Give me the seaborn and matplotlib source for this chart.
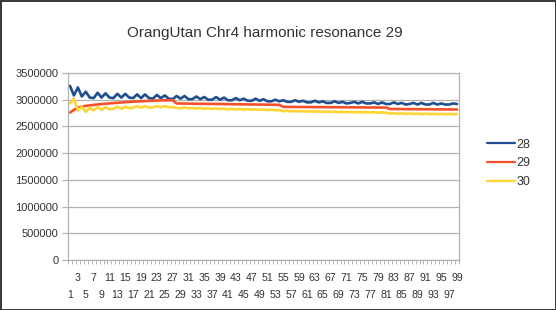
import matplotlib
matplotlib.use("Agg")
import matplotlib.pyplot as plt
import seaborn as sns
import pandas as pd

categories = list(range(1, 100))

s28 = [3260000, 3080000, 3230000, 3060000, 3150000, 3040000, 3030000, 3130000, 3040000, 3120000,
       3040000, 3030000, 3110000, 3040000, 3110000, 3040000, 3030000, 3100000, 3030000, 3100000,
       3030000, 3020000, 3090000, 3030000, 3080000, 3020000, 3010000, 3070000, 3020000, 3070000,
       3010000, 3010000, 3060000, 3010000, 3050000, 3000000, 3000000, 3050000, 3000000, 3040000,
       2990000, 2990000, 3030000, 2990000, 3020000, 2980000, 2980000, 3020000, 2980000, 3010000,
       2970000, 2970000, 3000000, 2970000, 2990000, 2960000, 2960000, 2990000, 2960000, 2980000,
       2950000, 2950000, 2980000, 2950000, 2970000, 2940000, 2940000, 2970000, 2940000, 2960000,
       2930000, 2940000, 2960000, 2930000, 2960000, 2930000, 2930000, 2950000, 2920000, 2950000,
       2920000, 2920000, 2950000, 2920000, 2940000, 2910000, 2920000, 2940000, 2910000, 2940000,
       2910000, 2910000, 2940000, 2910000, 2930000, 2910000, 2910000, 2930000, 2920000]

s29 = [2760000, 2810000, 2850000, 2870000, 2885000, 2895000, 2903000, 2911000, 2918000, 2925000,
       2931000, 2937000, 2943000, 2948000, 2953000, 2958000, 2963000, 2967000, 2971000, 2975000,
       2978000, 2981000, 2984000, 2987000, 2989000, 2990000, 2990000, 2930000, 2929000, 2928000,
       2927000, 2926000, 2925000, 2924000, 2923000, 2922000, 2921000, 2920000, 2919000, 2918000,
       2917000, 2916000, 2915000, 2914000, 2913000, 2912000, 2911000, 2910000, 2909000, 2908000,
       2907000, 2906000, 2905000, 2904000, 2866000, 2865500, 2865000, 2864500, 2864000, 2863500,
       2863000, 2862500, 2862000, 2861500, 2861000, 2860500, 2860000, 2859500, 2859000, 2858500,
       2858000, 2857500, 2857000, 2856500, 2856000, 2855500, 2855000, 2854500, 2854000, 2853500,
       2853000, 2826000, 2825500, 2825000, 2824500, 2824000, 2823500, 2823000, 2822500, 2822000,
       2821500, 2821000, 2820500, 2820000, 2819500, 2819000, 2818500, 2818000, 2817500]

s30 = [2930000, 3020000, 2800000, 2870000, 2770000, 2850000, 2800000, 2860000, 2810000, 2860000,
       2820000, 2830000, 2870000, 2830000, 2870000, 2840000, 2850000, 2880000, 2850000, 2880000,
       2850000, 2860000, 2880000, 2860000, 2880000, 2860000, 2860000, 2850000, 2840000, 2855000,
       2840000, 2845000, 2835000, 2845000, 2830000, 2840000, 2828000, 2836000, 2825000, 2833000,
       2822000, 2830000, 2820000, 2826000, 2816000, 2823000, 2813000, 2820000, 2810000, 2816000,
       2806000, 2812000, 2803000, 2808000, 2785000, 2792000, 2782000, 2789000, 2780000, 2786000,
       2777000, 2784000, 2775000, 2781000, 2772000, 2779000, 2770000, 2776000, 2768000, 2774000,
       2766000, 2772000, 2764000, 2770000, 2762000, 2768000, 2760000, 2766000, 2758000, 2764000,
       2756000, 2740000, 2746000, 2738000, 2744000, 2736000, 2742000, 2734000, 2740000, 2732000,
       2738000, 2730000, 2736000, 2729000, 2735000, 2728000, 2734000, 2727000, 2732000]

series_names = ["28", "29", "30"]
colors = ["#1f4f8f", "#f4512a", "#ffd433"]
title = "OrangUtan Chr4 harmonic resonance 29"
yticks = [0, 500000, 1000000, 1500000, 2000000, 2500000, 3000000, 3500000]

df = pd.DataFrame({
    "cat": categories * 3,
    "value": s28 + s29 + s30,
    "series": [series_names[0]] * 99 + [series_names[1]] * 99 + [series_names[2]] * 99,
})

sns.set_style("white")
plt.rcParams["font.family"] = ["Liberation Sans", "DejaVu Sans"]

fig = plt.figure(figsize=(5.56, 3.10), dpi=100)
fig.patch.set_edgecolor("#3a3a3a")
fig.patch.set_linewidth(2)
ax = fig.add_axes([68 / 556, 1 - 260 / 310, (459 - 68) / 556, (260 - 73) / 310])

sns.lineplot(data=df, x="cat", y="value", hue="series", palette=dict(zip(series_names, colors)),
             linewidth=1.9, ax=ax, legend=True)

grid_c = "#b3b3b3"
text_c = "#333333"
ax.set_xlim(0.5, 99.5)
ax.set_ylim(0, 3500000)
ax.set_yticks(yticks)
ax.set_yticklabels([str(v) for v in yticks])
ax.yaxis.grid(True, color=grid_c, linewidth=0.9)
ax.set_axisbelow(True)
for sp in ax.spines.values():
    sp.set_color(grid_c)
    sp.set_linewidth(0.9)

top_row = [c for c in categories if c % 4 == 3]
bottom_row = [c for c in categories if c % 4 == 1]
ax.set_xticks(top_row)
ax.set_xticklabels([str(c) for c in top_row])
ax.set_xticks([c + 0.5 for c in range(0, 100)], minor=True)
ax.tick_params(axis="x", which="major", length=0, pad=9.5, labelsize=7.6, colors=text_c)
ax.tick_params(axis="x", which="minor", length=3, width=0.7, color=grid_c, bottom=True)
ax.tick_params(axis="y", which="major", length=4, width=0.9, color=grid_c, pad=3,
               labelsize=8, labelcolor=text_c, left=True)

sec = ax.secondary_xaxis("bottom")
sec.set_xticks(bottom_row)
sec.set_xticklabels([str(c) for c in bottom_row])
sec.tick_params(axis="x", which="major", length=0, pad=21.5, labelsize=7.6, colors=text_c)
sec.tick_params(axis="x", which="minor", length=0)
sec.spines["bottom"].set_visible(False)

ax.set_xlabel("")
ax.set_ylabel("")

fig.text(265 / 556, 1 - 33.5 / 310, title, ha="center", va="center", fontsize=11, color=text_c)

handles, labs = ax.get_legend_handles_labels()
for h in handles:
    h.set_linewidth(1.6)
ax.legend(handles, labs, loc="center left", bbox_to_anchor=(487 / 556, 1 - 163.5 / 310),
          bbox_transform=fig.transFigure, frameon=False, fontsize=9, handlelength=2.2,
          handletextpad=0.15, labelspacing=0.55, borderpad=0, borderaxespad=0,
          labelcolor=text_c)

fig.savefig("out.png", dpi=100)
